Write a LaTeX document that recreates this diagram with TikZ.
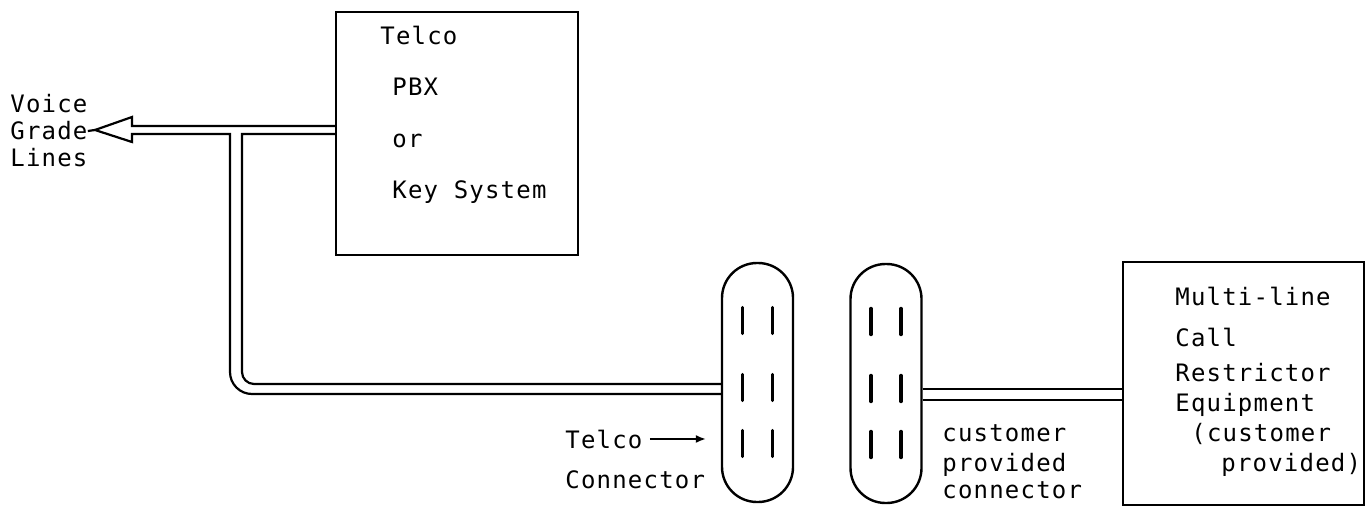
\documentclass[tikz,border=0pt]{standalone}
\usepackage{fontspec}
\setmonofont{DejaVu Sans Mono}[LetterSpace=5]
\usepackage{tikz}
\usetikzlibrary{arrows.meta,calc}

\begin{document}
\begin{tikzpicture}[
  x=0.5pt, y=-0.5pt,
  font=\ttfamily\fontsize{12}{13.5}\selectfont,
  unit/.style={
    draw, line width=1.2pt, inner sep=0pt,
    minimum width=121pt, minimum height=121.5pt
  },
  plug/.style={
    draw, line width=1.2pt, inner sep=0pt, rounded corners=17.5pt,
    minimum width=35.5pt, minimum height=119.5pt
  },
  pin/.style={line width=1.7pt, line cap=round},
  wire/.style={line width=1.1pt},
  lbl/.style={anchor=base west, inner sep=0pt},
  ptr/.style={-{Latex[length=5pt,width=4pt]}, line width=0.8pt}
]
  \useasboundingbox (0,0) rectangle (1368,508);

  %% PBX
  \node[unit] (pbx) at (457,133.5) {};
  \node[lbl] (pbx1) at (380,45) {Telco};
  \node[lbl] (pbx2) at (392,96) {PBX};
  \node[lbl] (pbx3) at (392,148) {or};
  \node[lbl] (pbx4) at (392,198) {Key System};

  %% voice grade lines
  \node[anchor=west, inner sep=0pt, align=left] (vgl) at (10,131) {Voice\\Grade\\Lines};
  \coordinate (tip) at (95,130);
  \draw[wire] (vgl.east) -- (tip);

  %% connectors
  \node[plug] (conn1) at (757.5,382.5) {};
  \node[plug] (conn2) at (886,383.5) {};
  \foreach \n in {conn1,conn2}
    \foreach \dy in {-62,5,61}
      \foreach \dx in {-15,15}
        \draw[pin] ($(\n)+(\dx,\dy-13)$) -- ++(0,26);

  %% equipment
  \node[unit, minimum width=120.5pt] (eqp) at (1243.5,383.5) {};
  \node[lbl] (eqp1) at (1175,305) {Multi-line};
  \node[lbl] (eqp2) at (1175,346) {Call};
  \node[lbl] (eqp3) at (1175,381) {Restrictor};
  \node[lbl] (eqp4) at (1175,411) {Equipment};
  \node[lbl] (eqp5) at (1191,441) {(customer};
  \node[lbl] (eqp6) at (1221,471) {provided)};

  %% wires
  \draw[wire] (pbx.west |- 0,126) -- (132,126) -- (132,117) -- (tip)
    -- (132,142) -- (132,134) -- (230,134) -- (230,200)
    [rounded corners=11pt] -- (230,394) -- (conn1.west |- 0,394);
  \draw[wire] (pbx.west |- 0,134) -- (242,134) -- (242,200)
    [rounded corners=6pt] -- (242,384) -- (conn1.west |- 0,384);
  \draw[wire] (conn2.east |- 0,389) -- (eqp.west |- 0,389);
  \draw[wire] (conn2.east |- 0,400) -- (eqp.west |- 0,400);

  %% labels
  \node[lbl] (tclab) at (565,448) {Telco};
  \node[lbl] (cnlab) at (565,488) {Connector};
  \draw[ptr, shorten <=3.5pt, shorten >=7.5pt] (tclab.east) -- (tclab.east -| conn1.west);
  \node[lbl] (cpl1) at (942,441) {customer};
  \node[lbl] (cpl2) at (942,471) {provided};
  \node[lbl] (cpl3) at (942,498) {connector};
\end{tikzpicture}
\end{document}
